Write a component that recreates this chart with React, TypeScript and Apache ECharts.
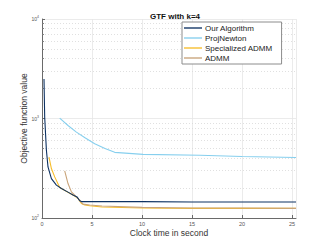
import React, { useEffect, useRef } from "react";
import * as echarts from "echarts";

const seriesNames = ["Our Algorithm", "ProjNewton", "Specialized ADMM", "ADMM"];
const seriesColors = ["#0e3262", "#86cfee", "#f6bd2a", "#c9a47a"];

const ourX = [0.2, 0.27, 0.44, 0.6, 0.94, 1.44, 1.94, 2.6, 3.1, 3.5, 3.77, 4.0, 5, 10, 15, 20, 25.4];
const ourY = [2495, 1030, 479, 326, 249, 214, 198, 182, 170, 163, 149, 146, 146, 146, 145, 145, 145];

const projX = [1.77, 2.6, 3.44, 4.3, 5.27, 6.3, 7.27, 10.1, 15.8, 20, 25.4];
const projY = [1007, 850, 730, 640, 558, 500, 457, 436, 427, 415, 405];

const specX = [0.7, 0.94, 1.27, 1.77, 2.6, 3.27, 3.6, 3.94, 4.27, 4.77, 6, 10, 15, 20, 25.4];
const specY = [410, 314, 259, 203, 181, 166, 157, 140, 135, 133, 129, 126, 125, 125, 125];

const admmX = [2.27, 2.6, 2.94, 3.44, 3.77, 4.1, 4.77, 6, 10, 15, 20, 25.4];
const admmY = [297, 222, 183, 163, 151, 138, 135, 132, 128, 126, 126, 125];

const xTicks = [0, 5, 10, 15, 20, 25];
const yDecades = [100, 1000, 10000];
const yMinor = [200, 300, 400, 500, 600, 700, 800, 900, 2000, 3000, 4000, 5000, 6000, 7000, 8000, 9000];

const FONT = "Liberation Sans, Arial, Helvetica, sans-serif";

function zip(xs: number[], ys: number[]) {
  return xs.map((x, i) => [x, ys[i]]);
}

export default function App() {
  const ref = useRef<HTMLDivElement>(null);
  useEffect(() => {
    if (!ref.current) return;
    const chart = echarts.init(ref.current, undefined, { renderer: "svg" });
    const datas = [zip(ourX, ourY), zip(projX, projY), zip(specX, specY), zip(admmX, admmY)];
    const minorGrid = yMinor.map((v) => ({
      yAxis: v,
      lineStyle: { color: "#d8d8d8", type: [1, 2] as any, width: 0.8 },
    }));
    const minorTicks = yMinor.map((v) => [
      { coord: [0, v], lineStyle: { color: "#666", type: "solid", width: 0.8 } },
      { coord: [0.2, v] },
    ]);
    const series: any[] = seriesNames.map((name, i) => ({
      name,
      type: "line",
      data: datas[i],
      symbol: "none",
      showSymbol: false,
      lineStyle: { color: seriesColors[i], width: 1.1 },
      itemStyle: { color: seriesColors[i] },
      z: i === 0 ? 3 : 2,
    }));
    series.push({
      name: "_grid",
      type: "line",
      data: [],
      silent: true,
      z: 1,
      markLine: {
        silent: true,
        symbol: "none",
        z: 1,
        label: { show: false },
        animation: false,
        data: [...minorGrid, ...minorTicks],
      },
    });
    chart.setOption({
      animation: false,
      textStyle: { fontFamily: FONT },
      title: {
        text: "GTF with k=4",
        left: 170,
        textAlign: "center",
        top: 7,
        textStyle: { fontSize: 8, fontWeight: "bold", color: "#111", fontFamily: FONT },
      },
      legend: {
        data: seriesNames,
        orient: "vertical",
        left: 182,
        top: 22,
        z: 10,
        icon: "path://M0,0H20V1.5H0Z",
        itemWidth: 18,
        itemHeight: 8,
        itemGap: 2,
        padding: [2, 9, 2, 2],
        borderColor: "#8c8c8c",
        borderWidth: 1,
        backgroundColor: "#fff",
        textStyle: { fontSize: 8, color: "#222", fontFamily: FONT, padding: [0, 0, 0, -2] },
      },
      grid: { left: 42, right: 31, top: 19, bottom: 27, containLabel: false },
      xAxis: {
        type: "value",
        min: 0,
        max: 25.4,
        interval: 5,
        name: "Clock time in second",
        nameLocation: "middle",
        nameGap: 10,
        nameMoveOverlap: false,
        nameTextStyle: { fontSize: 8.5, color: "#333", fontFamily: FONT },
        axisLine: { lineStyle: { color: "#6a6a6a", width: 1 } },
        axisTick: { show: true, inside: true, length: 3, lineStyle: { color: "#6a6a6a" } },
        axisLabel: {
          fontSize: 5.5,
          color: "#555",
          margin: 3,
          showMaxLabel: false,
          formatter: (v: number) => (xTicks.includes(v) ? String(v) : ""),
        },
        splitLine: { show: true, lineStyle: { color: "#e6e6e6", width: 0.8 } },
      },
      yAxis: {
        type: "log",
        logBase: 10,
        min: 100,
        max: 10000,
        name: "Objective function value",
        nameLocation: "middle",
        nameGap: 14,
        nameMoveOverlap: false,
        nameTextStyle: { fontSize: 8.5, color: "#333", fontFamily: FONT },
        axisLine: { show: true, lineStyle: { color: "#6a6a6a", width: 1 } },
        axisTick: { show: true, inside: true, length: 3, lineStyle: { color: "#6a6a6a" } },
        axisLabel: {
          margin: 3,
          formatter: (v: number) => {
            const e = Math.round(Math.log10(v));
            return yDecades.includes(v) ? `{b|10}{s|${e}}` : "";
          },
          rich: {
            b: { fontSize: 5, color: "#555", fontFamily: FONT },
            s: { fontSize: 3.5, color: "#555", fontFamily: FONT, padding: [0, 0, 4, 0] },
          },
        },
        splitLine: { show: true, lineStyle: { color: "#e6e6e6", width: 0.8 } },
      },
      series,
    });
    return () => chart.dispose();
  }, []);
  return <div ref={ref} style={{ width: 327, height: 245, position: "absolute", left: 0, top: 0, background: "#fff" }} />;
}
